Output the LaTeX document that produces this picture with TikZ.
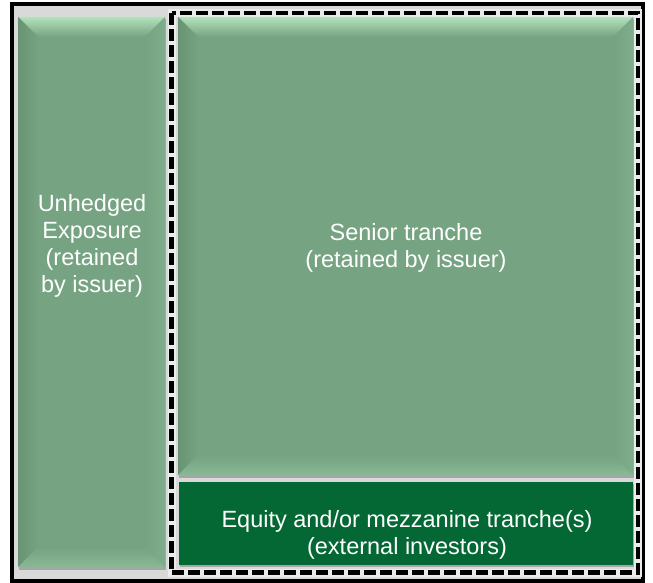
\documentclass[tikz,border=0pt]{standalone}
\usepackage{fontspec}
\setmainfont{Liberation Sans}

\definecolor{panelgray}{RGB}{217,217,217}
\definecolor{boxgreen}{RGB}{118,163,130}
\definecolor{bevtop}{RGB}{178,226,186}
\definecolor{bevleft}{RGB}{104,148,116}
\definecolor{bevright}{RGB}{128,174,140}
\definecolor{bevbottom}{RGB}{136,184,148}
\definecolor{equitygreen}{RGB}{4,104,52}

% bevelled box, corners given in pixels (y downwards)
\newcommand\bevelbox[4]{%
\fill[black!35] (#1+1,#2+2) rectangle (#3+1,#4+3);
\fill[boxgreen] (#1,#2) rectangle (#3,#4);
\shade[top color=bevtop,bottom color=boxgreen] (#1,#2) -- (#3,#2) -- (#3-\bw,#2+\bw) -- (#1+\bw,#2+\bw) -- cycle;
\shade[left color=bevleft,right color=boxgreen] (#1,#2) -- (#1+\bw,#2+\bw) -- (#1+\bw,#4-\bw) -- (#1,#4) -- cycle;
\shade[left color=boxgreen,right color=bevright] (#3,#2) -- (#3-\bw,#2+\bw) -- (#3-\bw,#4-\bw) -- (#3,#4) -- cycle;
\shade[top color=boxgreen,bottom color=bevbottom] (#1,#4) -- (#1+\bw,#4-\bw) -- (#3-\bw,#4-\bw) -- (#3,#4) -- cycle;
}
\newcommand\bw{20}

\begin{document}
\begin{tikzpicture}[x=1pt,y=-1pt,
  lbl/.style={text=white,align=center,font=\fontsize{23.5}{26.8}\selectfont},
  frame/.style={line width=4pt,black},
  dashframe/.style={line width=4.5pt,black,dash pattern=on 12pt off 4pt}]

\useasboundingbox (0,0) rectangle (653,583);

% outer panel
\fill[black!20] (12.5,5.5) rectangle (644.5,582.5);
\fill[panelgray] (11.5,4.5) rectangle (642.5,580.5);
\draw[frame] (11.5,4.5) rectangle (642.5,580.5);

% hedged part
\draw[line width=8pt,white!92!black] (171.5,13) rectangle (638,572.5);
\draw[dashframe] (171.5,13) rectangle (638,572.5);

\bevelbox{18}{17}{165}{567}
\bevelbox{178}{17}{633}{475}

\fill[black!35] (180,484) rectangle (634,567);
\fill[equitygreen] (179,482) rectangle (633,565);

\node[lbl] (unhedged) at (92,246) {Unhedged\\Exposure\\(retained\\by issuer)};
\node[lbl] (senior) at (406,248) {Senior tranche\\(retained by issuer)};
\node[lbl] (equity) at (407,535) {Equity and/or mezzanine tranche(s)\\(external investors)};

\end{tikzpicture}
\end{document}
